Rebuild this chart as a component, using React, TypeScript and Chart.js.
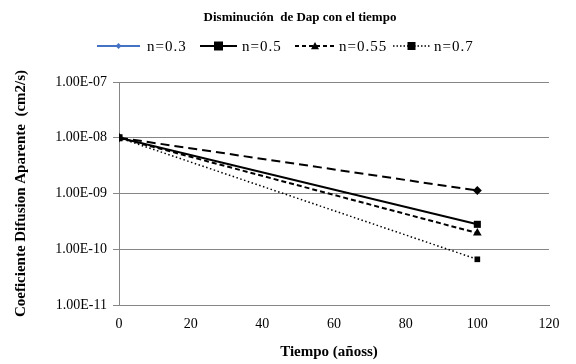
import React, { useEffect, useRef } from "react";
import { Chart, registerables } from "chart.js";

Chart.register(...registerables);

const times = [0, 100];
const n03 = [1e-8, 1.13e-9];
const n05 = [1e-8, 2.8e-10];
const n055 = [1e-8, 1.95e-10];
const n07 = [1e-8, 6.6e-11];
const seriesNames = ["n=0.3", "n=0.5", "n=0.55", "n=0.7"];
const yTicks = [1e-11, 1e-10, 1e-9, 1e-8, 1e-7];
const titleText = "Disminución  de Dap con el tiempo";
const xTitle = "Tiempo (añoss)";
const yTitle = "Coeficiente Difusion Aparente  (cm2/s)";

const FONT = "'Liberation Serif', 'Times New Roman', serif";

function fmt(v: number) {
  const e = Math.round(Math.log10(v));
  const m = v / Math.pow(10, e);
  const sign = e < 0 ? "-" : "+";
  const ab = Math.abs(e);
  return m.toFixed(2) + "E" + sign + (ab < 10 ? "0" + ab : "" + ab);
}

function drawMarker(ctx: CanvasRenderingContext2D, style: string, x: number, y: number, r: number, color: string) {
  ctx.save();
  ctx.fillStyle = color;
  ctx.beginPath();
  if (style === "rectRot") {
    ctx.moveTo(x, y - r);
    ctx.lineTo(x + r, y);
    ctx.lineTo(x, y + r);
    ctx.lineTo(x - r, y);
  } else if (style === "rect") {
    ctx.rect(x - r, y - r, 2 * r, 2 * r);
  } else if (style === "triangle") {
    ctx.moveTo(x, y - r);
    ctx.lineTo(x + r, y + r * 0.8);
    ctx.lineTo(x - r, y + r * 0.8);
  }
  ctx.closePath();
  ctx.fill();
  ctx.restore();
}

const legendItems = [
  { x0: 97, x1: 140, tx: 147, color: "#4472C4", dash: [] as number[], width: 2, marker: "rectRot", r: 3 },
  { x0: 200, x1: 237, tx: 242, color: "#000", dash: [] as number[], width: 2, marker: "rect", r: 4.5 },
  { x0: 295, x1: 335, tx: 339, color: "#000", dash: [4, 3], width: 2, marker: "triangle", r: 4 },
  { x0: 393, x1: 430, tx: 434, color: "#000", dash: [1.5, 2], width: 1.5, marker: "rect", r: 4 },
];

const overlayPlugin = {
  id: "overlay",
  afterDraw(chart: any) {
    const ctx: CanvasRenderingContext2D = chart.ctx;
    ctx.save();
    ctx.fillStyle = "#000";
    ctx.textBaseline = "middle";
    ctx.textAlign = "center";
    ctx.font = "bold 13px " + FONT;
    ctx.fillText(titleText, 300, 18);
    ctx.font = "bold 15px " + FONT;
    ctx.fillText(xTitle, 329, 352);
    ctx.font = "15px " + FONT;
    (ctx as any).letterSpacing = "1px";
    ctx.textAlign = "left";
    legendItems.forEach((it, i) => {
      ctx.save();
      ctx.strokeStyle = it.color;
      ctx.lineWidth = it.width;
      ctx.setLineDash(it.dash);
      ctx.beginPath();
      ctx.moveTo(it.x0, 46);
      ctx.lineTo(it.x1, 46);
      ctx.stroke();
      ctx.restore();
      drawMarker(ctx, it.marker, (it.x0 + it.x1) / 2, 46, it.r, it.color);
      ctx.fillStyle = "#000";
      ctx.fillText(seriesNames[i], it.tx, 47);
    });
    (ctx as any).letterSpacing = "0px";
    ctx.restore();
  },
};

export default function App() {
  const ref = useRef<HTMLCanvasElement>(null);
  useEffect(() => {
    document.body.style.margin = "0";
    const mk = (vals: number[]) => times.map((t, i) => ({ x: t, y: vals[i] }));
    const chart = new Chart(ref.current!, {
      type: "line",
      data: {
        datasets: [
          { label: seriesNames[0], data: mk(n03), borderColor: "#000", backgroundColor: "#000", borderWidth: 2, borderDash: [9, 5], pointStyle: "rectRot", pointRadius: 4.5, pointBorderWidth: 0 },
          { label: seriesNames[1], data: mk(n05), borderColor: "#000", backgroundColor: "#000", borderWidth: 2, pointStyle: "rect", pointRadius: 5, pointBorderWidth: 0 },
          { label: seriesNames[2], data: mk(n055), borderColor: "#000", backgroundColor: "#000", borderWidth: 2, borderDash: [5, 3], pointStyle: "triangle", pointRadius: 5, pointBorderWidth: 0 },
          { label: seriesNames[3], data: mk(n07), borderColor: "#000", backgroundColor: "#000", borderWidth: 1.5, borderDash: [1.5, 2.5], pointStyle: "rect", pointRadius: 4, pointBorderWidth: 0 },
        ],
      },
      options: {
        animation: false,
        responsive: false,
        layout: { padding: { top: 82, right: 27, left: 0, bottom: 0 } },
        plugins: { legend: { display: false }, title: { display: false }, tooltip: { enabled: false } },
        scales: {
          x: {
            type: "linear",
            min: 0,
            max: 120,
            ticks: { stepSize: 20, color: "#000", font: { family: FONT, size: 14 }, padding: 11 },
            grid: { display: false, drawTicks: false },
            border: { display: true, color: "#868686", width: 1 },
            title: { display: false },
            afterFit: (s: any) => { s.height = 59; },
          },
          y: {
            type: "logarithmic",
            min: 1e-11,
            max: 1e-7,
            afterBuildTicks: (s: any) => { s.ticks = yTicks.map((v) => ({ value: v })); },
            ticks: { color: "#000", font: { family: FONT, size: 14 }, padding: 6, callback: (v: any) => fmt(Number(v)), autoSkip: false },
            grid: { color: "#868686", tickLength: 6, lineWidth: 1 },
            border: { display: true, color: "#868686", width: 1 },
            title: { display: true, text: yTitle, color: "#000", font: { family: FONT, size: 15, weight: "bold" }, padding: { top: 12, bottom: 0 } },
            afterFit: (s: any) => { s.width = 119; },
          },
        },
      },
      plugins: [overlayPlugin],
    } as any);
    return () => chart.destroy();
  }, []);
  return <canvas ref={ref} width={576} height={364} style={{ display: "block" }} />;
}
